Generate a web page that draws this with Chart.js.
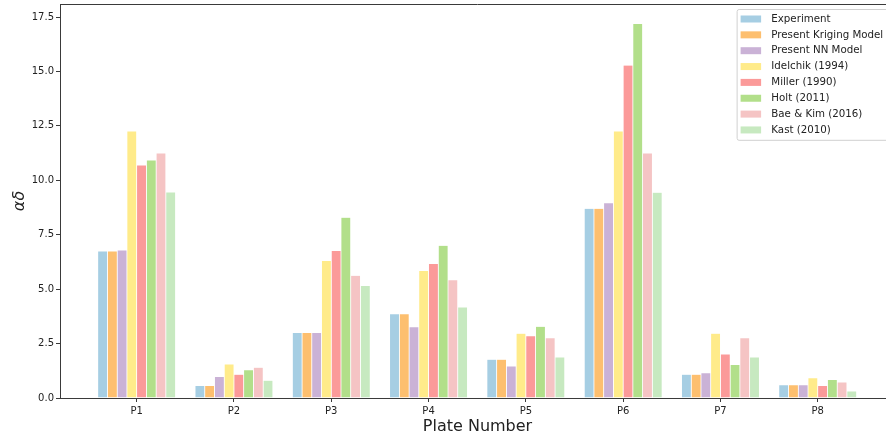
<!DOCTYPE html>
<html>
<head>
<meta charset="utf-8">
<script src="https://cdn.jsdelivr.net/npm/chart.js@4.4.1/dist/chart.umd.min.js"></script>
<style>
  html, body { margin: 0; padding: 0; background: #fff; overflow: hidden; }
  #wrap { width: 886px; height: 438px; overflow: hidden; position: relative; }
  canvas { display: block; }
</style>
</head>
<body>
<div id="wrap"><canvas id="chart" width="895" height="438"></canvas></div>
<script>
const plates = ['P1', 'P2', 'P3', 'P4', 'P5', 'P6', 'P7', 'P8'];

const experiment = [6.75, 0.57, 3.00, 3.87, 1.78, 8.71, 1.09, 0.60];
const kriging    = [6.75, 0.57, 3.00, 3.87, 1.78, 8.71, 1.09, 0.60];
const nnModel    = [6.80, 0.98, 3.00, 3.27, 1.47, 8.96, 1.15, 0.60];
const idelchik   = [12.26, 1.56, 6.31, 5.85, 2.97, 12.26, 2.97, 0.92];
const miller     = [10.70, 1.09, 6.77, 6.17, 2.86, 15.29, 2.02, 0.57];
const holt       = [10.93, 1.29, 8.30, 7.01, 3.29, 17.20, 1.53, 0.84];
const baeKim     = [11.25, 1.41, 5.63, 5.43, 2.76, 11.25, 2.76, 0.73];
const kast       = [9.46, 0.81, 5.16, 4.18, 1.88, 9.45, 1.88, 0.32];

const seriesNames = ['Experiment', 'Present Kriging Model', 'Present NN Model', 'Idelchik (1994)',
  'Miller (1990)', 'Holt (2011)', 'Bae & Kim (2016)', 'Kast (2010)'];
const seriesValues = [experiment, kriging, nnModel, idelchik, miller, holt, baeKim, kast];
const seriesColors = ['#a6cee3', '#fdbf6f', '#cab2d6', '#ffeb8a', '#fb9a99', '#b2df8a', '#f5c4c4', '#c7e9c0'];

const yTicks = [0, 2.5, 5, 7.5, 10, 12.5, 15, 17.5];

const axisColor = '#3a3a3a';
const textColor = '#222';

const datasets = seriesNames.map((name, i) => ({
  label: name,
  data: seriesValues[i].map((v, j) => ({ x: j, y: v })),
  backgroundColor: seriesColors[i],
  borderColor: 'rgba(255,255,255,0.7)',
  borderWidth: 0.4,
  categoryPercentage: 0.8,
  barPercentage: 1.0
}));

// matplotlib style frame: top spine + boxed legend in the upper right
const framePlugin = {
  id: 'frame',
  afterDraw(chart) {
    const { ctx, chartArea } = chart;
    ctx.save();
    ctx.strokeStyle = axisColor;
    ctx.lineWidth = 1;
    ctx.beginPath();
    ctx.moveTo(chartArea.left, chartArea.top + 0.5);
    ctx.lineTo(chartArea.right, chartArea.top + 0.5);
    ctx.stroke();

    // legend
    ctx.font = '10.25px "DejaVu Sans"';
    const maxW = Math.max(...chart.data.datasets.map(d => ctx.measureText(d.label).width));
    const w = 4 + 20 + 10 + maxW + 7.5;
    const right = chartArea.right - 5;
    const left = right - w;
    const top = chartArea.top + 5;
    const rowH = 15.85;
    const h = rowH * chart.data.datasets.length + 4;
    ctx.fillStyle = 'rgba(255,255,255,0.85)';
    ctx.strokeStyle = '#d0d0d0';
    ctx.beginPath();
    ctx.roundRect(left + 0.5, top + 0.5, w, h, 2);
    ctx.fill();
    ctx.stroke();
    ctx.textBaseline = 'middle';
    ctx.textAlign = 'left';
    chart.data.datasets.forEach((d, i) => {
      const cy = top + 10 + i * rowH;
      ctx.fillStyle = d.backgroundColor;
      ctx.fillRect(left + 4, cy - 3.5, 20.5, 7);
      ctx.fillStyle = textColor;
      ctx.fillText(d.label, left + 34.7, cy);
    });
    ctx.restore();
  }
};

new Chart(document.getElementById('chart'), {
  type: 'bar',
  data: { datasets },
  options: {
    responsive: false,
    animation: false,
    layout: { padding: { top: 4, right: 0, left: 0, bottom: 0 } },
    plugins: {
      legend: { display: false },
      tooltip: { enabled: false }
    },
    scales: {
      x: {
        type: 'linear',
        offset: false,
        min: -0.788,
        max: 7.794,
        grid: { display: true, offset: false, drawOnChartArea: false, tickLength: 4, tickColor: axisColor },
        border: { color: axisColor, width: 1 },
        afterBuildTicks: (scale) => { scale.ticks = plates.map((_, i) => ({ value: i })); },
        afterFit: (scale) => {
          scale.height = 40;
          scale.paddingLeft = 0; scale.paddingRight = 0;
          scale.paddingTop = 0; scale.paddingBottom = 0;
        },
        ticks: {
          autoSkip: false,
          maxRotation: 0,
          padding: 3,
          color: textColor,
          font: { family: 'DejaVu Sans', size: 10 },
          callback: (v) => plates[v]
        },
        title: {
          display: true,
          text: 'Plate Number',
          color: textColor,
          font: { family: 'DejaVu Sans', size: 16 },
          padding: { top: 0, bottom: 2 }
        }
      },
      y: {
        min: 0,
        max: 18.1,
        grid: { display: true, drawOnChartArea: false, tickLength: 4, tickColor: axisColor },
        border: { color: axisColor, width: 1 },
        afterBuildTicks: (scale) => { scale.ticks = yTicks.map(v => ({ value: v })); },
        afterFit: (scale) => {
          scale.width = 60;
          scale.paddingLeft = 0; scale.paddingRight = 0;
          scale.paddingTop = 0; scale.paddingBottom = 0;
        },
        ticks: {
          padding: 2,
          color: textColor,
          font: { family: 'DejaVu Sans', size: 10 },
          callback: (v) => Number(v).toFixed(1)
        },
        title: {
          display: true,
          text: 'αδ',
          color: textColor,
          font: { family: 'DejaVu Sans', size: 16, style: 'italic' },
          padding: { top: 10, bottom: 0 }
        }
      }
    }
  },
  plugins: [framePlugin]
});
</script>
</body>
</html>
